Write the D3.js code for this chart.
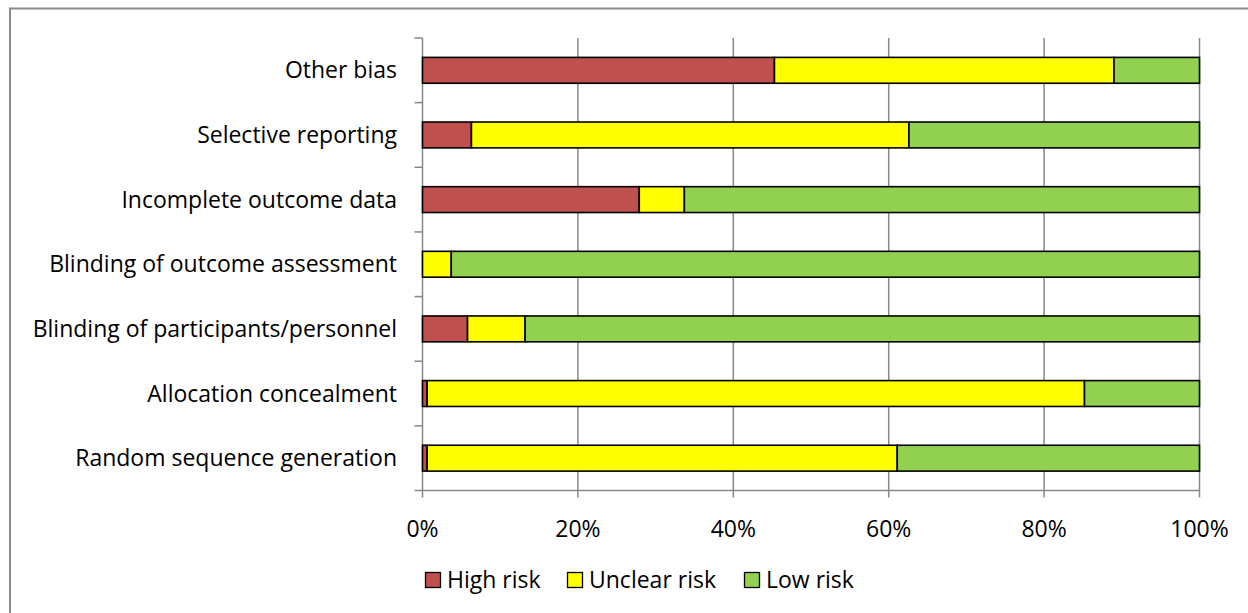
<!DOCTYPE html>
<html><head><meta charset="utf-8">
<script src="https://cdn.jsdelivr.net/npm/d3@7"></script>
<style>body{margin:0;background:#fff;} svg{display:block;}</style>
</head><body>
<svg id="c" width="1248" height="613"></svg>
<script>
const categories = ["Other bias","Selective reporting","Incomplete outcome data","Blinding of outcome assessment","Blinding of participants/personnel","Allocation concealment","Random sequence generation"];
const highRisk    = [45.3, 6.3, 27.9, 0.0, 5.8, 0.6, 0.6];
const unclearRisk = [43.7, 56.3, 5.8, 3.7, 7.4, 84.6, 60.5];
const lowRisk     = [11.0, 37.4, 66.3, 96.3, 86.8, 14.8, 38.9];
const seriesNames = ["High risk","Unclear risk","Low risk"];
const seriesColors = ["#C0504D","#FFFF00","#92D050"];
const xTicks = [0,20,40,60,80,100];

const svg = d3.select("#c");
const font = "'Open Sans', sans-serif";
const fs = 23;
svg.append("rect").attr("x",10).attr("y",8.5).attr("width",1260).attr("height",640)
  .attr("fill","none").attr("stroke","#8a8a8a").attr("stroke-width",2);

const L=422.5, R=1199.5, T=38, B=490.5;
const x = d3.scaleLinear().domain([0,100]).range([L,R]);
const y = d3.scaleBand().domain(categories).range([T,B]).paddingInner(0.6).paddingOuter(0.3);
const yb = d3.scaleBand().domain(categories).range([T,B]);

svg.append("g").selectAll("line").data(xTicks).join("line")
  .attr("x1",d=>x(d)).attr("x2",d=>x(d)).attr("y1",T).attr("y2",B+7)
  .attr("stroke","#888").attr("stroke-width",1.5);
svg.append("line").attr("x1",L).attr("x2",R).attr("y1",B).attr("y2",B).attr("stroke","#888").attr("stroke-width",1.5);
const bounds = categories.map(c=>yb(c)).concat([B]);
svg.append("g").selectAll("line").data(bounds).join("line")
  .attr("x1",L-8).attr("x2",L).attr("y1",d=>d).attr("y2",d=>d)
  .attr("stroke","#888").attr("stroke-width",1.5);

const rows = categories.map((c,i)=>({cat:c, high:highRisk[i], unclear:unclearRisk[i], low:lowRisk[i]}));
const stack = d3.stack().keys(["high","unclear","low"])(rows);
stack.forEach((s,si)=>{
  svg.append("g").selectAll("rect").data(s).join("rect")
    .attr("x",d=>x(d[0])).attr("width",d=>Math.max(0,x(d[1])-x(d[0])))
    .attr("y",d=>y(d.data.cat)).attr("height",y.bandwidth())
    .attr("fill",seriesColors[si]).attr("stroke","#000").attr("stroke-width",1.6)
    .attr("display",d=>d[1]-d[0]>0?null:"none");
});

svg.append("g").selectAll("text").data(categories).join("text")
  .attr("x",L-25.5).attr("y",d=>y(d)+y.bandwidth()/2).attr("dy","0.35em")
  .attr("text-anchor","end").attr("font-family",font).attr("font-size",fs).attr("fill","#000")
  .text(d=>d);

svg.append("g").selectAll("text").data(xTicks).join("text")
  .attr("x",d=>x(d)).attr("y",529).attr("dy","0.35em").attr("text-anchor","middle")
  .attr("font-family",font).attr("font-size",fs).attr("fill","#000").text(d=>d+"%");

const legX=[425,567,744];
const lg = svg.append("g").selectAll("g").data(seriesNames).join("g")
  .attr("transform",(d,i)=>`translate(${legX[i]},580)`);
lg.append("rect").attr("x",0.5).attr("y",-7.5).attr("width",15).attr("height",15)
  .attr("fill",(d,i)=>seriesColors[i]).attr("stroke","#000").attr("stroke-width",1.3);
lg.append("text").attr("x",22).attr("dy","0.35em").attr("font-family",font).attr("font-size",fs)
  .attr("fill","#000").text(d=>d);
</script>
</body></html>
